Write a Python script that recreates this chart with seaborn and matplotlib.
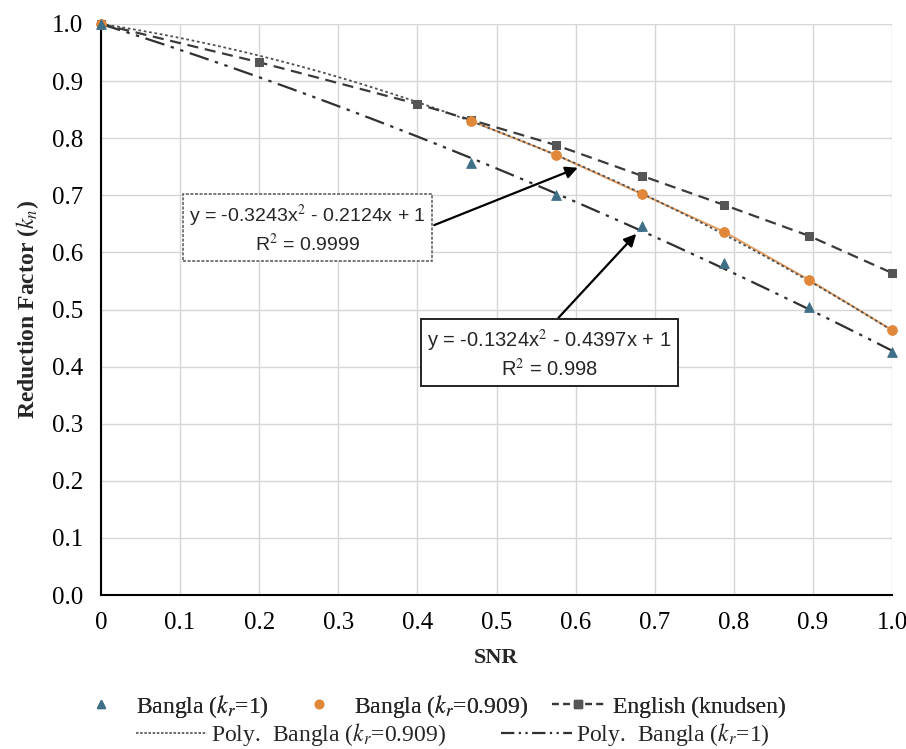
import numpy as np
import pandas as pd
import matplotlib
matplotlib.use("Agg")
import matplotlib.pyplot as plt
import seaborn as sns
from matplotlib.lines import Line2D

# ---------------- data ----------------
x_bangla = [0.0, 0.468, 0.575, 0.684, 0.788, 0.895, 1.0]
bangla_kr1 = [1.0, 0.757, 0.700, 0.646, 0.581, 0.504, 0.426]
bangla_kr0909 = [1.0, 0.830, 0.771, 0.702, 0.636, 0.552, 0.464]
x_english = [0.0, 0.2, 0.4, 0.468, 0.575, 0.684, 0.788, 0.895, 1.0]
english = [1.0, 0.933, 0.860, 0.832, 0.788, 0.734, 0.683, 0.629, 0.564]

# polynomial trendline coefficients (a, b, c) of y = a x^2 + b x + c
poly_kr0909 = [-0.3243, -0.2124, 1.0]
poly_kr1 = [-0.1324, -0.4397, 1.0]

x_ticks = [0, 0.1, 0.2, 0.3, 0.4, 0.5, 0.6, 0.7, 0.8, 0.9, 1.0]
x_ticklabels = ["0", "0.1", "0.2", "0.3", "0.4", "0.5", "0.6", "0.7", "0.8", "0.9", "1.0"]
y_ticks = [0, 0.1, 0.2, 0.3, 0.4, 0.5, 0.6, 0.7, 0.8, 0.9, 1.0]
y_ticklabels = ["0.0", "0.1", "0.2", "0.3", "0.4", "0.5", "0.6", "0.7", "0.8", "0.9", "1.0"]

eq1 = "y = -0.3243x$^2$ - 0.2124x + 1\nR$^2$ = 0.9999"
eq2 = "y = -0.1324x$^2$ - 0.4397x + 1\nR$^2$ = 0.998"

# ---------------- style ----------------
sns.set_theme(style="whitegrid")
plt.rcParams["font.family"] = ["Liberation Serif", "DejaVu Serif"]
plt.rcParams["mathtext.fontset"] = "stix"

C_TRI = "#3e6f86"
C_ORG = "#e0873a"
C_ENG = "#555555"

fig = plt.figure(figsize=(9.06, 7.49), dpi=100)
ax = fig.add_axes([101 / 906, 1 - 595 / 749, (892 - 101) / 906, (595 - 24) / 749])

# trendlines
xs = np.linspace(0, 1, 200)
df_p1 = pd.DataFrame({"x": xs, "y": np.polyval(poly_kr0909, xs)})
df_p2 = pd.DataFrame({"x": xs, "y": np.polyval(poly_kr1, xs)})

df_b1 = pd.DataFrame({"x": x_bangla, "y": bangla_kr1})
df_b0 = pd.DataFrame({"x": x_bangla, "y": bangla_kr0909})
df_en = pd.DataFrame({"x": x_english, "y": english})

# faint orange connecting line for kr=0.909 series (visible part)
sns.lineplot(data=df_b0.iloc[1:], x="x", y="y", ax=ax, color=C_ORG, lw=1.4, alpha=0.8, zorder=2)
sns.lineplot(data=df_p1, x="x", y="y", ax=ax, color="#505050", lw=1.3,
             linestyle=(0, (1.5, 1.5)), zorder=3)
sns.lineplot(data=df_p2, x="x", y="y", ax=ax, color="#303030", lw=1.6,
             linestyle=(0, (9, 3, 1.5, 3, 1.5, 3)), zorder=3)
sns.lineplot(data=df_en, x="x", y="y", ax=ax, color="#3a3a3a", lw=1.6,
             linestyle=(0, (5, 3)), marker="s", markersize=5.5,
             markerfacecolor=C_ENG, markeredgecolor=C_ENG, zorder=4, clip_on=False)
sns.scatterplot(data=df_b0, x="x", y="y", ax=ax, color=C_ORG, s=50, marker="o",
                edgecolor=C_ORG, zorder=5, clip_on=False)
sns.scatterplot(data=df_b1, x="x", y="y", ax=ax, color=C_TRI, s=50, marker="^",
                edgecolor=C_TRI, zorder=5, clip_on=False)

ax.set_xlim(0, 1.0)
ax.set_ylim(0, 1.0)
ax.set_xticks(x_ticks)
ax.set_xticklabels(x_ticklabels)
ax.set_yticks(y_ticks)
ax.set_yticklabels(y_ticklabels)
ax.tick_params(axis="both", labelsize=18, colors="black")
ax.tick_params(axis="x", direction="inout", length=8, width=1.2, pad=8)
ax.tick_params(axis="y", direction="out", length=7, width=1.2, pad=6)
ax.grid(True, color="#d6d6d6", lw=1.0)
ax.set_facecolor("white")
for s in ["top", "right"]:
    ax.spines[s].set_visible(False)
for s in ["left", "bottom"]:
    ax.spines[s].set_color("black")
    ax.spines[s].set_linewidth(1.5)

ax.set_xlabel("SNR", fontsize=16, fontweight="bold", labelpad=10)
ax.set_ylabel(r"Reduction Factor ($\mathbf{\it{k_n}}$)", fontsize=17, fontweight="bold", labelpad=8)

# annotation boxes
ax.annotate("", xy=(0.606, 0.750), xytext=(0.418, 0.646),
            arrowprops=dict(arrowstyle="-|>", color="black", lw=1.6, mutation_scale=18))
ax.annotate("", xy=(0.679, 0.636), xytext=(0.576, 0.482),
            arrowprops=dict(arrowstyle="-|>", color="black", lw=1.6, mutation_scale=18))
ax.text(0.261, 0.641, eq1, ha="center", va="center", fontsize=14,
        family=["Liberation Sans", "DejaVu Sans"], linespacing=1.25,
        bbox=dict(boxstyle="square,pad=0.3", fc="white", ec="#555555", lw=1.1,
                  linestyle=(0, (2, 1))), zorder=6)
ax.text(0.567, 0.422, eq2, ha="center", va="center", fontsize=14.5,
        family=["Liberation Sans", "DejaVu Sans"], linespacing=1.25,
        bbox=dict(boxstyle="square,pad=0.3", fc="white", ec="#222222", lw=1.4), zorder=6)

# legends
h_tri = Line2D([], [], color=C_TRI, marker="^", linestyle="none", markersize=6)
h_org = Line2D([], [], color=C_ORG, marker="o", linestyle="none", markersize=6)
h_eng = Line2D([], [], color="#3a3a3a", marker="s", markersize=6, lw=1.6,
               linestyle=(0, (3, 2)), markerfacecolor=C_ENG, markeredgecolor=C_ENG)
h_p1 = Line2D([], [], color="#505050", lw=1.2, linestyle=(0, (1.5, 1.0)))
h_p2 = Line2D([], [], color="#303030", lw=1.6, linestyle=(0, (6, 2, 1, 2, 1, 2)))

leg1 = fig.legend([h_tri, h_org, h_eng],
                  [r"Bangla ($k_r$=1)", r"Bangla ($k_r$=0.909)", "English (knudsen)"],
                  loc="center", bbox_to_anchor=(0.475, 1 - 706 / 749), ncol=3,
                  frameon=False, fontsize=17, handlelength=2.2, handletextpad=0.4,
                  columnspacing=1.0)
fig.add_artist(leg1)
leg2 = fig.legend([h_p1, h_p2],
                  [r"Poly.  Bangla ($k_r$=0.909)", r"Poly.  Bangla ($k_r$=1)"],
                  loc="center", bbox_to_anchor=(0.50, 1 - 735 / 749), ncol=2,
                  frameon=False, fontsize=17, handlelength=3.0, handletextpad=0.2,
                  columnspacing=2.3)

fig.savefig("out.png", dpi=100, facecolor="white")
